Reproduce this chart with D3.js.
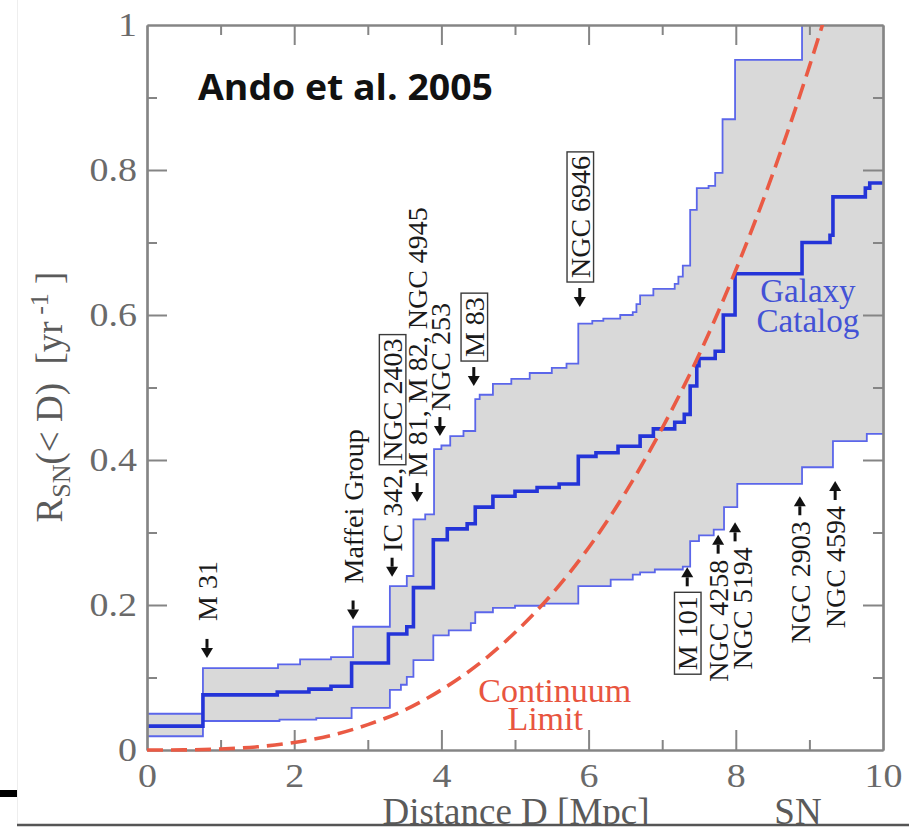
<!DOCTYPE html>
<html>
<head>
<meta charset="utf-8">
<script src="https://cdn.jsdelivr.net/npm/d3@7"></script>
<style>
  body { margin: 0; background: #fff; }
  svg { display: block; }
</style>
</head>
<body>
<svg id="chart" width="909" height="828"></svg>
<script>
// Cumulative core-collapse supernova rate R_SN(<D) from the galaxy catalog.
// Each step curve is a list of [D (Mpc), R (yr^-1)]; the rate holds from D until the next step.
const upperSteps = [[0,0.050],[0.76,0.113],[1.78,0.118],[2.08,0.125],[2.5,0.128],[2.8,0.170],
  [3.3,0.226],[3.53,0.240],[3.62,0.318],[3.78,0.325],[3.9,0.415],[4.0,0.420],[4.12,0.433],[4.3,0.440],
  [4.46,0.484],[4.52,0.490],[4.7,0.505],[4.95,0.512],[5.2,0.520],[5.5,0.527],[5.7,0.533],
  [5.86,0.588],[6.05,0.592],[6.2,0.595],[6.43,0.600],[6.6,0.604],[6.65,0.615],[6.7,0.627],
  [6.88,0.636],[7.17,0.643],[7.22,0.653],[7.28,0.668],[7.38,0.745],[7.47,0.775],[7.63,0.778],
  [7.72,0.796],[7.82,0.870],[7.99,0.952],[8.9,1.06]];

const middleSteps = [[0,0.033],[0.76,0.076],[1.77,0.080],[2.2,0.084],[2.5,0.088],[2.78,0.120],
  [3.28,0.160],[3.53,0.170],[3.62,0.224],[3.89,0.290],[4.08,0.305],[4.35,0.312],[4.46,0.335],
  [4.7,0.350],[5.0,0.357],[5.3,0.362],[5.6,0.367],[5.86,0.405],[6.1,0.410],[6.4,0.419],
  [6.7,0.433],[6.88,0.443],[7.17,0.452],[7.3,0.463],[7.38,0.502],[7.47,0.530],[7.5,0.540],
  [7.72,0.550],[7.83,0.600],[7.99,0.657],[8.9,0.700],[9.28,0.710],[9.32,0.763],[9.76,0.775],[9.82,0.782]];

const lowerSteps = [[0,0.019],[0.76,0.040],[1.8,0.042],[2.3,0.044],[2.78,0.058],[3.3,0.083],
  [3.45,0.090],[3.53,0.101],[3.62,0.124],[3.89,0.158],[4.1,0.165],[4.4,0.175],[4.46,0.190],
  [4.7,0.196],[5.0,0.199],[5.4,0.202],[5.86,0.226],[6.3,0.235],[6.6,0.242],[6.7,0.245],
  [6.9,0.249],[7.28,0.253],[7.38,0.288],[7.5,0.296],[7.7,0.304],[7.84,0.335],[8.02,0.367],
  [8.9,0.390],[9.32,0.426],[9.78,0.436]];

// Continuum limit (smooth galaxy distribution)
const continuumD = [0,0.5,1,1.5,2,2.5,3,3.5,4,4.5,5,5.5,6,6.5,7,7.5,8,8.5,9,9.5];
const continuumR = [0,0.0002,0.0013,0.0044,0.0104,0.020,0.035,0.055,0.083,0.118,0.162,0.215,
  0.279,0.355,0.444,0.545,0.662,0.794,0.943,1.109];

// Individual galaxies: name (boxed part in brackets), distance, rate where the arrow points
const annText = ["M 31","Maffei Group","IC 342, [NGC 2403]","M 81, M 82, NGC 4945","NGC 253",
  "[M 83]","[NGC 6946]","[M 101]","NGC 4258","NGC 5194","NGC 2903","NGC 4594"];
const annD = [0.815,2.80,3.33,3.67,3.98,4.44,5.88,7.34,7.76,7.99,8.87,9.35];
const annR = [0.127,0.180,0.239,0.342,0.433,0.502,0.611,0.252,0.297,0.314,0.350,0.371];
const annDir = ["down","down","down","down","down","down","down","up","up","up","up","up"];

// Axis ticks
const xMajor = [0,2,4,6,8,10], xMinor = [1,3,5,7,9];
const yMajor = [0,0.2,0.4,0.6,0.8,1], yMinor = [0.1,0.3,0.5,0.7,0.9];

const svg = d3.select("#chart");
const W = 909, H = 828;
const x = d3.scaleLinear().domain([0,10]).range([147,883]);
const y = d3.scaleLinear().domain([0,1]).range([750,25]);

const serif = "'Liberation Serif','Times New Roman',serif";
const frameCol = "#858585";

svg.append("rect").attr("width",W).attr("height",H).attr("fill","#fff");
// faint slide edge
svg.append("line").attr("x1",17.5).attr("x2",17.5).attr("y1",0).attr("y2",824)
  .attr("stroke","#eeeeee").attr("stroke-width",1);

const defs = svg.append("defs");
defs.append("clipPath").attr("id","plotClip").append("rect")
  .attr("x",x(0)).attr("y",y(1)).attr("width",x(10)-x(0)).attr("height",y(0)-y(1)+4);

// value of a step curve at distance d
function stepAt(steps, d) {
  let v = steps[0][1];
  for (const s of steps) { if (s[0] <= d) v = s[1]; else break; }
  return v;
}
function withEnd(steps) { return steps.concat([[10, steps[steps.length-1][1]]]); }

const plot = svg.append("g").attr("clip-path","url(#plotClip)");

// grey band between the lower and upper estimates
const bandX = Array.from(new Set(upperSteps.map(d=>d[0]).concat(lowerSteps.map(d=>d[0])).concat([10])))
  .sort((a,b)=>a-b);
const band = bandX.map(d => ({d, lo: stepAt(lowerSteps,d), hi: stepAt(upperSteps,d)}));
plot.append("path").datum(band)
  .attr("d", d3.area().curve(d3.curveStepAfter).x(p=>x(p.d)).y0(p=>y(p.lo)).y1(p=>y(p.hi)))
  .attr("fill","#d9d9d9");

const stepLine = d3.line().curve(d3.curveStepAfter).x(p=>x(p[0])).y(p=>y(p[1]));
plot.append("path").datum(withEnd(lowerSteps)).attr("d",stepLine)
  .attr("fill","none").attr("stroke","#5b66ea").attr("stroke-width",1.8);
plot.append("path").datum(withEnd(upperSteps)).attr("d",stepLine)
  .attr("fill","none").attr("stroke","#5b66ea").attr("stroke-width",1.8);
plot.append("path").datum(withEnd(middleSteps)).attr("d",stepLine)
  .attr("fill","none").attr("stroke","#2434d8").attr("stroke-width",3.6);

// axes: major and minor ticks point inward on all four sides
function styleAxis(g) {
  g.selectAll(".domain").attr("stroke",frameCol).attr("stroke-width",2.2);
  g.selectAll(".tick line").attr("stroke",frameCol).attr("stroke-width",2);
}
const noLabel = () => "";
svg.append("g").attr("transform",`translate(0,${y(0)})`)
  .call(d3.axisBottom(x).tickValues(xMinor).tickSizeInner(-10).tickSizeOuter(0).tickFormat(noLabel)).call(styleAxis);
svg.append("g").attr("transform",`translate(0,${y(1)})`)
  .call(d3.axisTop(x).tickValues(xMinor).tickSizeInner(-10).tickSizeOuter(0).tickFormat(noLabel)).call(styleAxis);
svg.append("g").attr("transform",`translate(0,${y(1)})`)
  .call(d3.axisTop(x).tickValues(xMajor.slice(1,-1)).tickSizeInner(-20).tickSizeOuter(0).tickFormat(noLabel)).call(styleAxis);
svg.append("g").attr("transform",`translate(${x(10)},0)`)
  .call(d3.axisRight(y).tickValues(yMinor).tickSizeInner(-10).tickSizeOuter(0).tickFormat(noLabel)).call(styleAxis);
svg.append("g").attr("transform",`translate(${x(10)},0)`)
  .call(d3.axisRight(y).tickValues(yMajor.slice(1,-1)).tickSizeInner(-20).tickSizeOuter(0).tickFormat(noLabel)).call(styleAxis);
svg.append("g").attr("transform",`translate(${x(0)},0)`)
  .call(d3.axisLeft(y).tickValues(yMinor).tickSizeInner(-10).tickSizeOuter(0).tickFormat(noLabel)).call(styleAxis);

const fmtY = d => (d === 0 || d === 1) ? String(d) : d.toFixed(1);
const tickFont = 33, stretch = 1.15;
const xAxisG = svg.append("g").attr("transform",`translate(0,${y(0)})`)
  .call(d3.axisBottom(x).tickValues(xMajor).tickSizeInner(-20).tickSizeOuter(0).tickPadding(14).tickFormat(d3.format("d")))
  .call(styleAxis);
xAxisG.selectAll(".tick line").filter(d => d === 0 || d === 10).remove();
xAxisG.selectAll(".tick text")
  .attr("font-family",serif).attr("font-size",tickFont).attr("fill","#6a6a6a")
  .attr("x",0).attr("transform",`scale(${stretch},1)`);
const yAxisG = svg.append("g").attr("transform",`translate(${x(0)},0)`)
  .call(d3.axisLeft(y).tickValues(yMajor).tickSizeInner(-20).tickSizeOuter(0).tickPadding(10).tickFormat(fmtY))
  .call(styleAxis);
yAxisG.selectAll(".tick line").filter(d => d === 0 || d === 1).remove();
yAxisG.selectAll(".tick text").each(function(){
  const t = d3.select(this);
  const xPos = +t.attr("x");
  t.attr("x",0).attr("transform",`translate(${xPos},0) scale(${stretch},1)`)
   .attr("font-family",serif).attr("font-size",tickFont).attr("fill","#6a6a6a");
});

// continuum limit (dashed)
svg.append("g").attr("clip-path","url(#plotClip)").append("path")
  .datum(continuumD.map((d,i)=>[d, continuumR[i]]))
  .attr("d", d3.line().curve(d3.curveMonotoneX).x(p=>x(p[0])).y(p=>y(p[1])))
  .attr("fill","none").attr("stroke","#ea5a44").attr("stroke-width",3.6)
  .attr("stroke-dasharray","16,8");

// galaxy markers: arrow plus rotated name
const ann = svg.append("g");
const labelFont = 28, arrowLen = 19, headLen = 10, headHalf = 6, boxPad = 4;
const gapFor = {"M 31": 18, "Maffei Group": 17};
const shiftFor = {"NGC 5194": 7};
annText.forEach((raw, i) => {
  const px = x(annD[i]), py = y(annR[i]);
  const down = annDir[i] === "down";
  const base = down ? py - arrowLen : py + arrowLen;
  const neck = down ? py - headLen : py + headLen;
  ann.append("line").attr("x1",px).attr("x2",px).attr("y1",base).attr("y2",neck)
    .attr("stroke","#111").attr("stroke-width",3);
  ann.append("path").attr("d",`M${px-headHalf},${neck}L${px+headHalf},${neck}L${px},${py}Z`).attr("fill","#111");

  // split into plain / boxed segments
  const segs = [];
  raw.split(/(\[[^\]]*\])/).filter(s => s.length).forEach(s => {
    if (s[0] === "[") segs.push({t: s.slice(1,-1), box: true}); else segs.push({t: s, box: false});
  });
  const gap = gapFor[raw] !== undefined ? gapFor[raw] : 6;
  const edge = down ? base - gap : base + gap;
  const lg = ann.append("g")
    .attr("transform",`translate(${px + (shiftFor[raw]||0)},${edge}) rotate(-90)`);
  const txt = lg.append("text").attr("font-family",serif).attr("font-size",labelFont)
    .attr("fill","#1a1a1a").attr("dy","0.35em").style("white-space","pre");
  segs.forEach(s => txt.append("tspan").text(s.t));
  const node = txt.node();
  const L = node.getComputedTextLength();
  const padStart = segs[0].box ? boxPad : 0, padEnd = segs[segs.length-1].box ? boxPad : 0;
  const startX = down ? padStart : -(L + padEnd);
  txt.attr("x", startX);
  let k = 0;
  const capTop = 0.35*labelFont - 0.662*labelFont, base0 = 0.35*labelFont;
  segs.forEach(s => {
    if (s.box) {
      const off = k > 0 ? node.getSubStringLength(0,k) : 0;
      const w = node.getSubStringLength(k, s.t.length);
      lg.insert("rect","text").attr("x", startX + off - boxPad).attr("y", capTop - boxPad)
        .attr("width", w + 2*boxPad).attr("height", base0 - capTop + 2*boxPad)
        .attr("fill","none").attr("stroke","#3a3a3a").attr("stroke-width",1.4);
    }
    k += s.t.length;
  });
});

// curve labels
svg.append("text").attr("x",x(8.98)).attr("y",y(0.618)).attr("text-anchor","middle")
  .attr("font-family",serif).attr("font-size",33).attr("fill","#4352d6").text("Galaxy");
svg.append("text").attr("x",x(8.98)).attr("y",y(0.618)+30).attr("text-anchor","middle")
  .attr("font-family",serif).attr("font-size",33).attr("fill","#4352d6").text("Catalog");
svg.append("text").attr("x",x(5.54)).attr("y",y(0.066)).attr("text-anchor","middle")
  .attr("font-family",serif).attr("font-size",34).attr("fill","#e8553f").text("Continuum");
svg.append("text").attr("x",x(5.41)).attr("y",y(0.066)+28).attr("text-anchor","middle")
  .attr("font-family",serif).attr("font-size",34).attr("fill","#e8553f").text("Limit");

// title
svg.append("text").attr("x",198).attr("y",100)
  .attr("font-family","'Open Sans',Lato,sans-serif").attr("font-weight",700).attr("font-size",35)
  .attr("textLength",295).attr("lengthAdjust","spacingAndGlyphs")
  .attr("fill","#111").text("Ando et al. 2005");

// y-axis title
const yt = svg.append("g").attr("transform","translate(49,397) rotate(-90)")
  .append("text").attr("text-anchor","middle").attr("dy","0.35em")
  .attr("font-family",serif).attr("font-size",37).attr("fill","#5a5a5a").style("white-space","pre");
yt.append("tspan").text("R");
yt.append("tspan").attr("font-size",26).attr("dy",8).text("SN");
yt.append("tspan").attr("dy",-8).text("(< D)  [yr");
yt.append("tspan").attr("font-size",26).attr("dy",-14).text(" -1");
yt.append("tspan").attr("dy",14).text(" ]");

// x-axis title and SN label (cut by the slide border below)
svg.append("text").attr("x",516).attr("y",824).attr("text-anchor","middle")
  .attr("font-family",serif).attr("font-size",37).attr("fill","#5a5a5a").text("Distance D [Mpc]");
svg.append("text").attr("x",798).attr("y",824).attr("text-anchor","middle")
  .attr("font-family",serif).attr("font-size",37).attr("fill","#5a5a5a").text("SN");
svg.append("rect").attr("x",0).attr("y",824).attr("width",W).attr("height",4).attr("fill","#fff");
svg.append("line").attr("x1",17).attr("x2",W).attr("y1",825).attr("y2",825)
  .attr("stroke","#555").attr("stroke-width",2.5);
svg.append("rect").attr("x",0).attr("y",790).attr("width",17).attr("height",7).attr("fill","#000");
</script>
</body>
</html>
